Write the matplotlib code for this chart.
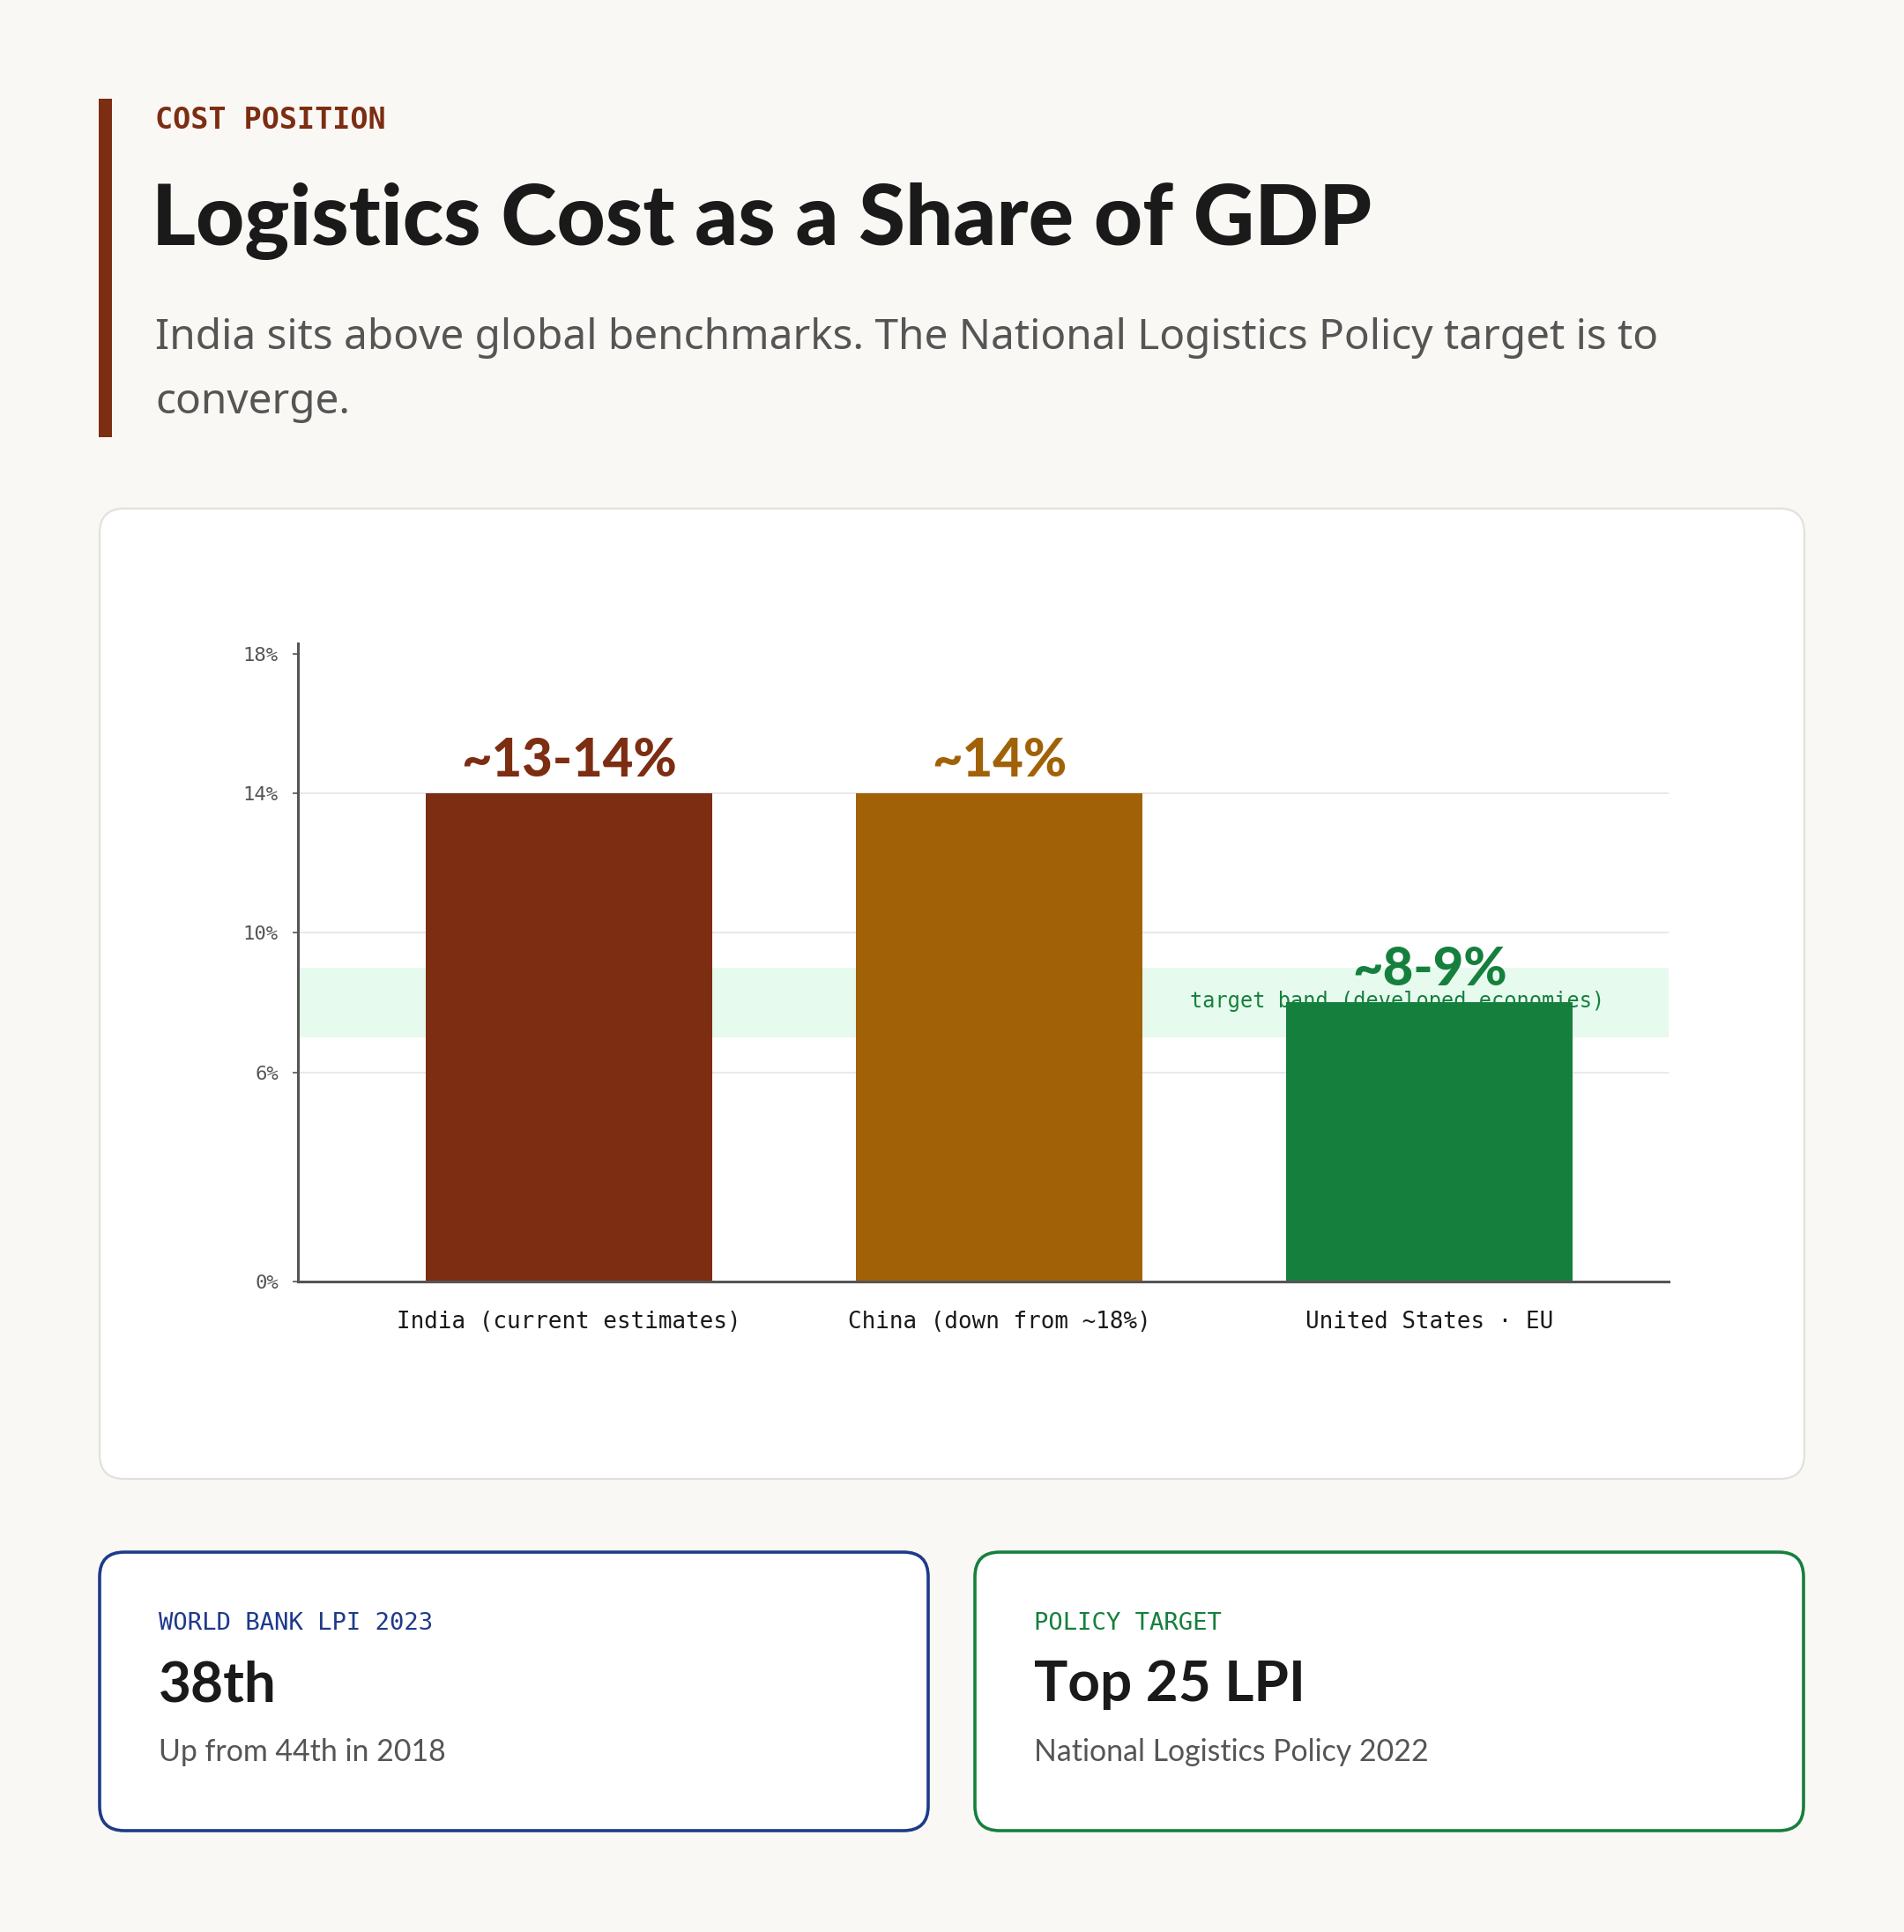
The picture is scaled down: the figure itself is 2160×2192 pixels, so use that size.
import matplotlib
matplotlib.use("Agg")
import matplotlib.pyplot as plt
from matplotlib.patches import FancyBboxPatch, Rectangle

# data
categories = ["India (current estimates)", "China (down from ~18%)", "United States · EU"]
values = [14, 14, 8]
value_labels = ["~13-14%", "~14%", "~8-9%"]
bar_colors = ["#7C2D12", "#A16207", "#15803D"]
band_low, band_high = 7, 9
yticks = [0, 6, 10, 14, 18]
ytick_labels = ["0%", "6%", "10%", "14%", "18%"]

stat_kickers = ["WORLD BANK LPI 2023", "POLICY TARGET"]
stat_values = ["38th", "Top 25 LPI"]
stat_notes = ["Up from 44th in 2018", "National Logistics Policy 2022"]
stat_colors = ["#1E3A8A", "#15803D"]

BG = "#FAF8F4"
DARK = "#1A1A1A"
GREY = "#555555"
MONO = ["DejaVu Sans Mono"]
SANS = ["Lato", "DejaVu Sans"]

W, H = 2160, 2192
fig = plt.figure(figsize=(10.8, 10.96), dpi=200, facecolor=BG)

# pixel-space background layer
bg = fig.add_axes([0, 0, 1, 1])
bg.set_xlim(0, W)
bg.set_ylim(H, 0)
bg.axis("off")
bg.set_facecolor(BG)

# header
bg.add_patch(Rectangle((112, 112), 15, 384, color="#7C2D12", lw=0))
bg.text(176, 137, "COST POSITION", family=MONO, fontsize=12, fontweight="bold",
        color="#7C2D12", va="center", ha="left")
bg.text(172, 251, "Logistics Cost as a Share of GDP", family=SANS, fontsize=34.5,
        fontweight="black", color=DARK, va="center", ha="left")
bg.text(176, 420, "India sits above global benchmarks. The National Logistics Policy target is to\nconverge.",
        family=["Noto Sans"], fontsize=17.2, color=GREY, va="center", ha="left",
        linespacing=1.74)

# chart card
bg.add_patch(FancyBboxPatch((113, 577), 1934, 1101,
                            boxstyle="round,pad=0,rounding_size=28",
                            fc="white", ec="#E3E1DC", lw=0.8))

# stat cards
card_x = [113, 1106]
for i in range(2):
    x0 = card_x[i]
    bg.add_patch(FancyBboxPatch((x0, 1761), 940, 316,
                                boxstyle="round,pad=0,rounding_size=28",
                                fc="white", ec=stat_colors[i], lw=1.3))
    bg.text(x0 + 67, 1842, stat_kickers[i], family=MONO, fontsize=9.8,
            color=stat_colors[i], va="center", ha="left")
    bg.text(x0 + 67, 1912, stat_values[i], family=SANS, fontsize=23,
            fontweight="bold", color=DARK, va="center", ha="left")
    bg.text(x0 + 67, 1988, stat_notes[i], family=SANS, fontsize=12.2,
            color=GREY, va="center", ha="left")

# bar chart
ax = fig.add_axes([338 / W, 1 - 1454 / H, (1893 - 338) / W, 724 / H])
ax.set_facecolor("white")
x = list(range(len(categories)))
ax.set_xlim(-0.63, 2.556)
ax.set_ylim(0, 18.3)

ax.axhspan(band_low, band_high, color="#E6FAEE", lw=0, zorder=0)
for t in yticks[1:-1]:
    ax.axhline(t, color="#E5E5E5", lw=0.6, zorder=0.5)

ax.text(2.556 - 0.15, (band_low + band_high) / 2 + 0.05, "target band (developed economies)",
        family=MONO, fontsize=8.5, color="#15803D", ha="right", va="center", zorder=1)

ax.bar(x, values, width=0.665, color=bar_colors, zorder=2)
for xi, v, lab, c in zip(x, values, value_labels, bar_colors):
    ax.annotate(lab, (xi, v), xytext=(0, 13.5), textcoords="offset points",
                ha="center", va="center", family=SANS, fontsize=21.5,
                fontweight="black", color=c, zorder=3)

ax.set_yticks(yticks)
ax.set_yticklabels(ytick_labels, family=MONO, fontsize=8, color=GREY)
ax.set_xticks(x)
ax.set_xticklabels(categories, family=MONO, fontsize=9.3, color=DARK)
ax.tick_params(axis="x", length=0, pad=12)
ax.tick_params(axis="y", length=2, pad=6, color="#555555", width=0.6)

for s in ["top", "right"]:
    ax.spines[s].set_visible(False)
for s in ["left", "bottom"]:
    ax.spines[s].set_color("#555555")
    ax.spines[s].set_linewidth(1.1)

fig.savefig("out.png", dpi=200, facecolor=BG)
